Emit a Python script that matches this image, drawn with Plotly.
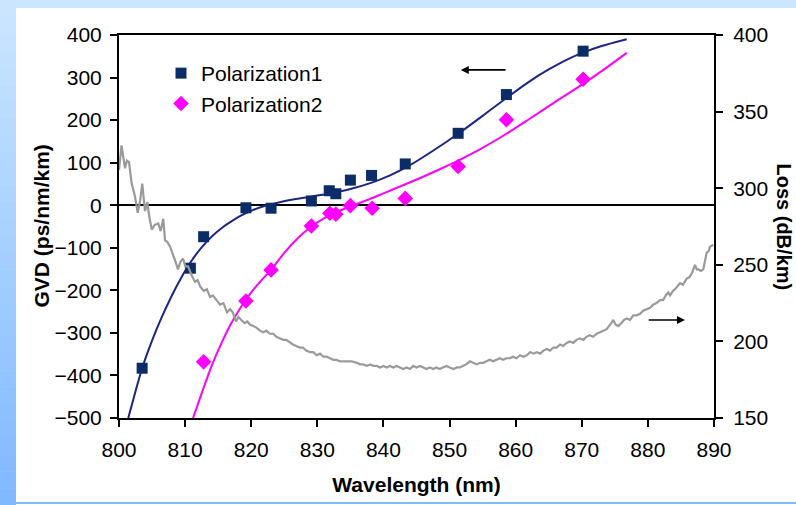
import plotly.graph_objects as go

# ---------------- data ----------------
# Measured GVD points (ps/nm/km)
p1_wl = [803.5, 810.8, 812.8, 819.2, 823.0, 829.1, 831.8, 832.8, 835.0, 838.2, 843.3, 851.3, 858.6, 870.2]
p1_gvd = [-383, -148, -74, -6, -7, 10, 34, 27, 59, 70, 97, 169, 260, 362]

p2_wl = [812.8, 819.2, 823.0, 829.1, 831.9, 832.8, 835.0, 838.3, 843.3, 851.3, 858.6, 870.2]
p2_gvd = [-368, -225, -152, -49, -19, -21, -1, -7, 16, 91, 201, 296]

# Fitted curves
fit1_wl = [801.4, 802.5, 803.5, 805.0, 806.5, 808.0, 809.5, 811.0, 812.5, 814.0, 815.5, 817.0,
           818.5, 820.0, 822.0, 824.0, 826.5, 829.0, 832.0, 835.0, 838.0, 841.0, 844.0, 847.5,
           851.3, 855.0, 858.6, 862.0, 865.0, 868.0, 870.1, 873.0, 876.8]
fit1_gvd = [-500, -437, -383, -318, -262, -212, -168, -130, -99, -74, -54, -38,
            -24, -13, -2, 6, 14, 20, 28, 38, 52, 70, 94, 128,
            168, 210, 252, 290, 319, 344, 358, 374, 390]

fit2_wl = [811.2, 812.5, 814.0, 815.5, 817.0, 818.5, 820.0, 821.5, 823.0, 825.0, 827.0, 829.0,
           831.0, 833.0, 835.0, 837.5, 840.0, 842.5, 846.0, 849.0, 851.3, 855.0, 858.6, 862.0,
           866.0, 870.1, 873.0, 876.8]
fit2_gvd = [-500, -442, -378, -324, -277, -238, -205, -177, -152, -112, -78, -51,
            -31, -15, -3, 12, 28, 44, 67, 88, 105, 135, 168, 202,
            243, 284, 315, 358]

# Loss curve (wavelength nm, loss dB/km)
loss_points = [
    (800.0, 312), (800.38, 328), (800.91, 313), (801.2, 318), (801.51, 317), (801.92, 303),
    (802.4, 295), (802.83, 284), (803.2, 292), (803.52, 303), (803.93, 285), (804.28, 291),
    (804.6, 281), (804.95, 273), (805.4, 276), (805.94, 277), (806.3, 272), (806.70, 280),
    (806.96, 266), (807.3, 265), (807.71, 262), (808.1, 258), (808.47, 253), (808.92, 247),
    (809.3, 252), (809.68, 254), (810.05, 249), (810.44, 249), (811.0, 243), (811.50, 239),
    (811.9, 240), (812.25, 236), (812.8, 233), (813.3, 234), (813.77, 229), (814.2, 230),
    (814.7, 227), (815.28, 224), (815.8, 225), (816.34, 219), (816.8, 221), (817.2, 219),
    (817.7, 213), (818.05, 216), (818.5, 214), (819.0, 212), (819.4, 213), (819.82, 211),
    (820.3, 210), (820.8, 209), (821.3, 207), (821.83, 206), (822.3, 207), (822.8, 205),
    (823.34, 205), (823.8, 203), (824.3, 202), (824.85, 201), (825.3, 201), (825.87, 199),
    (826.3, 198), (826.8, 197), (827.38, 196), (827.8, 196), (828.3, 194), (828.89, 193),
    (829.4, 193), (829.9, 191), (830.40, 192), (830.9, 190), (831.4, 190), (831.92, 189),
    (832.4, 188), (832.9, 188), (833.43, 187), (834.0, 187), (834.6, 187), (835.2, 187),
    (835.96, 186), (836.5, 185), (836.95, 185), (837.5, 184), (838.0, 185), (838.5, 184),
    (838.98, 184), (839.5, 183), (840.0, 184), (840.5, 183), (840.99, 184), (841.5, 183),
    (842.0, 184), (842.5, 183), (843.0, 182), (843.52, 183), (844.0, 182), (844.5, 184),
    (845.0, 183), (845.53, 184), (846.0, 183), (846.5, 182), (847.0, 183), (847.54, 182),
    (848.0, 183), (848.5, 182), (849.0, 183), (849.57, 184), (850.0, 183), (850.6, 182),
    (851.1, 183), (851.58, 183), (852.0, 184), (852.5, 185), (853.09, 187), (853.5, 186),
    (854.1, 185), (854.6, 186), (855.10, 186), (855.6, 187), (856.1, 188), (856.6, 187),
    (857.13, 188), (857.6, 189), (858.1, 188), (858.6, 189), (859.14, 189), (859.6, 190),
    (860.1, 189), (860.66, 191), (861.2, 190), (861.7, 191), (862.2, 193), (862.67, 192),
    (863.2, 193), (863.7, 192), (864.2, 194), (864.70, 195), (865.2, 194), (865.7, 196),
    (866.2, 196), (866.71, 198), (867.2, 197), (867.7, 199), (868.22, 200), (868.7, 199),
    (869.2, 201), (869.7, 202), (870.23, 201), (870.7, 203), (871.2, 204), (871.7, 203),
    (872.26, 205), (872.7, 206), (873.2, 207), (873.77, 208), (874.3, 211), (874.77, 214),
    (875.1, 211), (875.53, 210), (876.0, 212), (876.4, 214), (876.80, 215), (877.3, 214),
    (877.8, 217), (878.3, 217), (878.81, 218), (879.3, 220), (879.8, 221), (880.33, 222),
    (880.8, 224), (881.3, 225), (881.84, 227), (882.3, 227), (882.7, 230), (883.09, 232),
    (883.35, 230), (883.8, 233), (884.3, 235), (884.86, 238), (885.3, 237), (885.87, 241),
    (886.3, 242), (886.7, 245), (887.13, 250), (887.4, 247), (887.63, 247), (888.0, 246),
    (888.38, 247), (888.6, 252), (888.90, 258), (889.2, 259), (889.40, 262), (889.90, 263),
]
loss_wl = [p[0] for p in loss_points]
loss_db = [p[1] for p in loss_points]

x_ticks = [800, 810, 820, 830, 840, 850, 860, 870, 880, 890]
gvd_ticks = [-500, -400, -300, -200, -100, 0, 100, 200, 300, 400]
loss_ticks = [150, 200, 250, 300, 350, 400]

# ---------------- layout helpers ----------------
W, H = 796, 505
L, R, T, B = 119, 82, 35, 87
PW, PH = W - L - R, H - T - B


def xp(px):
    return (px - L) / PW


def yp(py):
    return (H - B - py) / PH


FONT = "Arial, Liberation Sans, sans-serif"
NAVY_M = "#0b2c66"
NAVY_L = "#1b2585"
MAG = "#ff00ff"
GRAY = "#9a9a9a"

fig = go.Figure()

fig.add_trace(go.Scatter(x=loss_wl, y=loss_db, yaxis="y2", mode="lines",
                         line=dict(color=GRAY, width=2.2), showlegend=False, hoverinfo="skip"))
fig.add_trace(go.Scatter(x=fit1_wl, y=fit1_gvd, mode="lines",
                         line=dict(color=NAVY_L, width=2, shape="spline", smoothing=0.8),
                         showlegend=False, hoverinfo="skip"))
fig.add_trace(go.Scatter(x=fit2_wl, y=fit2_gvd, mode="lines",
                         line=dict(color=MAG, width=2, shape="spline", smoothing=0.8),
                         showlegend=False, hoverinfo="skip"))
fig.add_trace(go.Scatter(x=p1_wl, y=p1_gvd, mode="markers", name="Polarization1",
                         marker=dict(symbol="square", size=11, color=NAVY_M)))
fig.add_trace(go.Scatter(x=p2_wl, y=p2_gvd, mode="markers", name="Polarization2",
                         marker=dict(symbol="diamond", size=12, color=MAG)))

# ---------------- decorations (page frame) ----------------
shapes = []
shapes.append(dict(type="rect", xref="paper", yref="paper", x0=xp(0), x1=xp(W), y0=yp(8), y1=yp(0),
                   fillcolor="rgb(204,230,255)", line=dict(width=0), layer="below"))
n = 30
c0 = (204, 230, 255)
c1 = (128, 184, 255)
for i in range(n):
    t = (i + 0.5) / n
    col = tuple(round(c0[k] + (c1[k] - c0[k]) * t) for k in range(3))
    y_top = H * i / n
    y_bot = H * (i + 1) / n + 0.5
    shapes.append(dict(type="rect", xref="paper", yref="paper", x0=xp(0), x1=xp(16),
                       y0=yp(y_bot), y1=yp(y_top), fillcolor="rgb(%d,%d,%d)" % col,
                       line=dict(width=0), layer="below"))
shapes.append(dict(type="rect", xref="paper", yref="paper", x0=xp(16), x1=xp(W), y0=yp(504), y1=yp(502),
                   fillcolor="rgb(128,184,255)", line=dict(width=0), layer="below"))

annotations = [
    dict(text="<b>GVD (ps/nm/km)</b>", xref="paper", yref="paper", x=xp(41), y=yp(226.5),
         showarrow=False, textangle=-90, font=dict(family=FONT, size=21, color="black"),
         xanchor="center", yanchor="middle"),
    dict(text="<b>Loss (dB/km)</b>", xref="paper", yref="paper", x=xp(784), y=yp(226.5),
         showarrow=False, textangle=90, font=dict(family=FONT, size=20, color="black"),
         xanchor="center", yanchor="middle"),
    # left-pointing arrow (refers to GVD axis)
    dict(x=851.7, y=318, ax=858.7, ay=318, xref="x", yref="y", axref="x", ayref="y",
         text="", showarrow=True, arrowhead=2, arrowsize=1, arrowwidth=1.6, arrowcolor="black"),
    # right-pointing arrow (refers to Loss axis)
    dict(x=885.6, y=214, ax=879.9, ay=214, xref="x", yref="y2", axref="x", ayref="y2",
         text="", showarrow=True, arrowhead=2, arrowsize=1, arrowwidth=1.6, arrowcolor="black"),
]

axis_common = dict(showgrid=False, showline=True, linecolor="black", linewidth=2,
                   ticks="outside", tickcolor="black", tickwidth=2, ticklen=7,
                   tickfont=dict(family=FONT, size=21, color="black"))

fig.update_layout(
    width=W, height=H,
    margin=dict(l=L, r=R, t=T, b=B, pad=0),
    paper_bgcolor="white", plot_bgcolor="white",
    font=dict(family=FONT, size=21, color="black"),
    xaxis=dict(range=[800, 890], tickvals=x_ticks, mirror=True, ticklabelstandoff=5,
               title=dict(text="<b>Wavelength (nm)</b>", font=dict(family=FONT, size=21), standoff=17),
               zeroline=False, **axis_common),
    yaxis=dict(range=[-500, 400], tickvals=gvd_ticks, zeroline=True, zerolinecolor="black", zerolinewidth=2,
               ticklabelstandoff=4, **axis_common),
    yaxis2=dict(range=[150, 400], tickvals=loss_ticks, overlaying="y", side="right", zeroline=False,
                ticklabelstandoff=6, **axis_common),
    legend=dict(x=xp(161), y=yp(53), xanchor="left", yanchor="top", bgcolor="rgba(0,0,0,0)",
                font=dict(family=FONT, size=21, color="black"), tracegroupgap=0),
    shapes=shapes,
    annotations=annotations,
)

fig.write_html("out.html", config={"displayModeBar": False},
               post_script="document.body.style.margin='0';document.body.style.overflow='hidden';")
